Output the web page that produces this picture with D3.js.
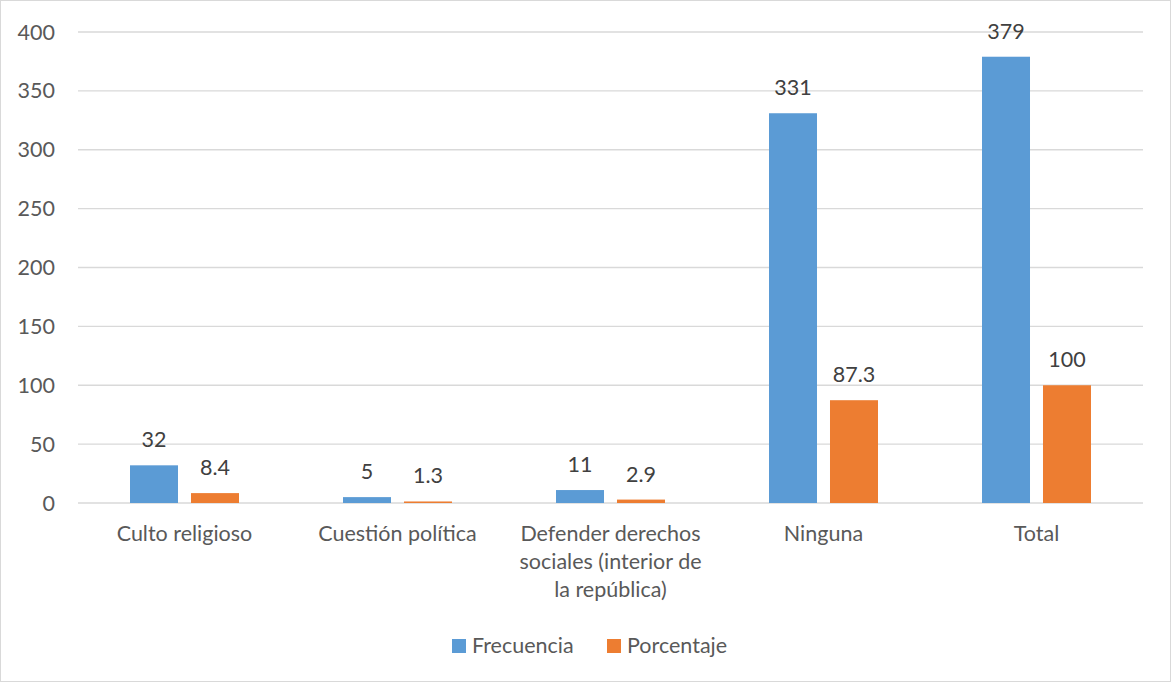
<!DOCTYPE html>
<html><head><meta charset="utf-8">
<script src="https://cdn.jsdelivr.net/npm/d3@7"></script>
<style>body{margin:0;background:#fff;}svg{display:block;font-family:Lato,"Open Sans",sans-serif;}</style>
</head><body>
<svg id="c" width="1172" height="683"></svg>
<script>
const categories = [["Culto religioso"],["Cuestión política"],["Defender derechos","sociales (interior de","la república)"],["Ninguna"],["Total"]];
const seriesNames = ["Frecuencia","Porcentaje"];
const frecuencia = [32,5,11,331,379];
const porcentaje = [8.4,1.3,2.9,87.3,100];
const yTicks = [0,50,100,150,200,250,300,350,400];
const colors = ["#5B9BD5","#ED7D31"];

(function(){
const fs = 21.5;
const svg = d3.select("#c");
svg.append("rect").attr("x",0.5).attr("y",0.5).attr("width",1170).attr("height",681)
  .attr("fill","#fff").attr("stroke","#d9d9d9");

const pl=78,pr=1143,pt=32,pb=503;
const y = d3.scaleLinear().domain([0,400]).range([pb,pt]);
const keys = categories.map((c,i)=>i);
const x0 = d3.scaleBand().domain(keys).range([pl,pr]).padding(0);
const x1 = d3.scaleBand().domain(seriesNames).range([52,161]).paddingInner(0.213);

svg.append("g").selectAll("line").data(yTicks).join("line")
  .attr("x1",pl).attr("x2",pr).attr("y1",d=>y(d)).attr("y2",d=>y(d))
  .attr("stroke","#d9d9d9").attr("stroke-width",1.3);

svg.append("g").selectAll("text").data(yTicks).join("text")
  .attr("x",55).attr("y",d=>y(d)+7.5).attr("text-anchor","end")
  .attr("fill","#595959").attr("font-size",fs).text(d=>d);

const series = [frecuencia, porcentaje];
series.forEach((vals,si)=>{
  const g = svg.append("g");
  g.selectAll("rect").data(vals).join("rect")
    .attr("x",(d,i)=>x0(i)+x1(seriesNames[si]))
    .attr("width",x1.bandwidth())
    .attr("y",d=>y(d)).attr("height",d=>pb-y(d))
    .attr("fill",colors[si]);
  g.selectAll("text").data(vals).join("text")
    .attr("x",(d,i)=>x0(i)+x1(seriesNames[si])+x1.bandwidth()/2)
    .attr("y",d=>y(d)-18)
    .attr("text-anchor","middle").attr("fill","#404040").attr("font-size",fs)
    .text(d=>d);
});

const cg = svg.append("g");
categories.forEach((lines,i)=>{
  const t = cg.append("text").attr("text-anchor","middle").attr("fill","#595959").attr("font-size",fs);
  lines.forEach((l,j)=>{
    t.append("tspan").attr("x",x0(i)+x0.bandwidth()/2).attr("y",541+j*28).text(l);
  });
});

const legendX = [452,607];
seriesNames.forEach((s,i)=>{
  svg.append("rect").attr("x",legendX[i]).attr("y",639).attr("width",14).attr("height",14).attr("fill",colors[i]);
  svg.append("text").attr("x",legendX[i]+20).attr("y",653).attr("fill","#595959").attr("font-size",fs).text(s);
});
})();
</script>
</body></html>
